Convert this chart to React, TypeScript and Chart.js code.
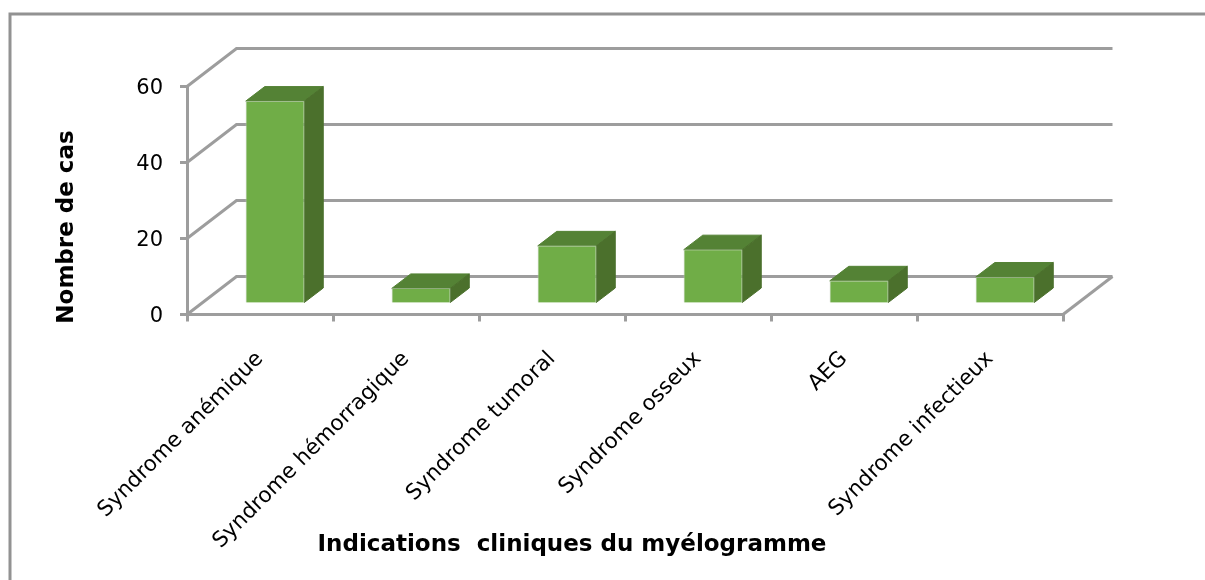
import React, { useEffect, useRef } from "react";
import { Chart, registerables } from "chart.js";

Chart.register(...registerables);

const categories = [
  "Syndrome anémique",
  "Syndrome hémorragique",
  "Syndrome tumoral",
  "Syndrome osseux",
  "AEG",
  "Syndrome infectieux",
];
const cases = [53.4, 4.1, 15.3, 14.3, 6.1, 7.1];
const yTicks = [0, 20, 40, 60];
const xTitle = "Indications  cliniques du myélogramme";
const yTitle = "Nombre de cas";

const FONT = '"DejaVu Sans", sans-serif';
const GRID = "#9d9d9d";
const WALL_DX = 49.5;
const WALL_DY = 38;
const BAR_DX = 15;
const BAR_DY = 10.5;
const DEPTH_X = 19;
const DEPTH_Y = 14.5;

const poly = (ctx: CanvasRenderingContext2D, pts: number[][], fill: string) => {
  ctx.beginPath();
  pts.forEach((p, i) => (i ? ctx.lineTo(p[0], p[1]) : ctx.moveTo(p[0], p[1])));
  ctx.closePath();
  ctx.fillStyle = fill;
  ctx.fill();
  ctx.strokeStyle = fill;
  ctx.lineWidth = 1;
  ctx.stroke();
};

const threeD = {
  id: "threeD",
  beforeDraw(chart: any) {
    const { ctx, width, height } = chart;
    ctx.save();
    ctx.fillStyle = "#ffffff";
    ctx.fillRect(0, 0, width, height);
    ctx.strokeStyle = "#929292";
    ctx.lineWidth = 3;
    ctx.beginPath();
    ctx.moveTo(10, height);
    ctx.lineTo(10, 14);
    ctx.lineTo(width + 2, 14);
    ctx.stroke();
    ctx.restore();
  },
  beforeDatasetsDraw(chart: any) {
    const { ctx, scales, chartArea } = chart;
    const { left, right } = chartArea;
    ctx.save();
    ctx.strokeStyle = GRID;
    ctx.lineWidth = 3;
    yTicks.forEach((v) => {
      const y = scales.y.getPixelForValue(v);
      ctx.beginPath();
      ctx.moveTo(left, y);
      ctx.lineTo(left + WALL_DX, y - WALL_DY);
      ctx.lineTo(right + WALL_DX, y - WALL_DY);
      ctx.stroke();
    });
    const y0 = scales.y.getPixelForValue(0);
    ctx.beginPath();
    ctx.moveTo(right, y0);
    ctx.lineTo(right + WALL_DX, y0 - WALL_DY);
    ctx.stroke();
    ctx.restore();

    ctx.save();
    ctx.translate(BAR_DX, -BAR_DY);
    chart.getDatasetMeta(0).data.forEach((bar: any) => {
      const l = bar.x - bar.width / 2;
      const r = bar.x + bar.width / 2;
      const t = bar.y;
      const b = bar.base;
      poly(ctx, [[l, t], [r, t], [r + DEPTH_X, t - DEPTH_Y], [l + DEPTH_X, t - DEPTH_Y]], "#548235");
      poly(ctx, [[r, t], [r, b], [r + DEPTH_X, b - DEPTH_Y], [r + DEPTH_X, t - DEPTH_Y]], "#4b702c");
    });
    ctx.restore();

    ctx.save();
    ctx.translate(BAR_DX, -BAR_DY);
  },
  afterDatasetsDraw(chart: any) {
    const { ctx } = chart;
    ctx.restore();
    ctx.save();
    ctx.fillStyle = "#000000";
    ctx.font = `bold 23px ${FONT}`;
    ctx.textAlign = "center";
    ctx.textBaseline = "middle";
    ctx.fillText(xTitle, 572, 545);
    ctx.translate(67, 227);
    ctx.rotate(-Math.PI / 2);
    ctx.fillText(yTitle, 0, 0);
    ctx.restore();
  },
};

export default function App() {
  const ref = useRef<HTMLCanvasElement>(null);
  useEffect(() => {
    const chart = new Chart(ref.current as HTMLCanvasElement, {
      type: "bar",
      data: {
        labels: categories,
        datasets: [
          {
            label: yTitle,
            data: cases,
            backgroundColor: "#70ad47",
            borderColor: "rgba(205,215,200,0.45)",
            borderWidth: 1,
            barThickness: 58.5,
            clip: false,
          } as any,
        ],
      },
      options: {
        animation: false,
        responsive: false,
        layout: { padding: { top: 86.5, right: 142, left: 0, bottom: 0 } },
        plugins: { legend: { display: false }, title: { display: false }, tooltip: { enabled: false } },
        scales: {
          x: {
            afterFit: (s: any) => {
              s.height = 265.5;
            },
            grid: { drawOnChartArea: false, color: GRID, lineWidth: 3, tickLength: 7 },
            border: { color: GRID, width: 3 },
            ticks: {
              maxRotation: 45,
              minRotation: 45,
              autoSkip: false,
              color: "#000000",
              padding: 25,
              font: { family: FONT, size: 21.5 },
            },
          },
          y: {
            min: 0,
            max: 60,
            afterFit: (s: any) => {
              s.width = 187;
            },
            afterBuildTicks: (s: any) => {
              s.ticks = yTicks.map((value) => ({ value }));
            },
            grid: { drawOnChartArea: false, color: GRID, lineWidth: 3, tickLength: 7 },
            border: { color: GRID, width: 3 },
            ticks: { color: "#000000", padding: 17, labelOffset: 2.5, font: { family: FONT, size: 21 } },
          },
        },
      },
      plugins: [threeD],
    } as any);
    return () => chart.destroy();
  }, []);
  return (
    <canvas
      ref={ref}
      width={1205}
      height={580}
      style={{ position: "absolute", left: 0, top: 0, display: "block" }}
    />
  );
}
